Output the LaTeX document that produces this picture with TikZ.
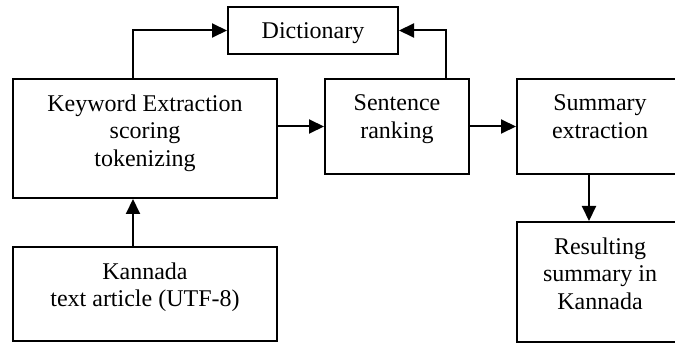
\documentclass[tikz,border=0pt]{standalone}
\usepackage{fontspec}
\setmainfont{Liberation Serif}
\usepackage{tikz}
\usetikzlibrary{arrows.meta,positioning,calc}
\tikzstyle{procbox}=[draw, line width=2pt, inner sep=0pt]
\tikzstyle{boxtext}=[align=center, inner sep=0pt, font=\fontsize{24}{27.5}\selectfont]
\tikzstyle{flow}=[line width=2pt, -{Triangle[length=15pt,width=14pt]}]
\newcommand{\procBox}[5]{
	\node[procbox, minimum width=#3, minimum height=#4] (#1) at #2 {};
	\node[boxtext, below=16.5pt of #1.north] (#1-text) {#5};
}

\begin{document}
\begin{tikzpicture}[x=1pt,y=1pt]
	\clip (0,0) rectangle (675,343);
	\procBox{dict}{(313,312.5)}{170pt}{47pt}{Dictionary}
	\procBox{kw}{(145,204.5)}{264pt}{119pt}{Keyword Extraction\\scoring\\tokenizing}
	\procBox{sent}{(397,216.5)}{144pt}{95pt}{Sentence\\ranking}
	\procBox{summ}{(600,216.5)}{166pt}{95pt}{Summary\\extraction}
	\procBox{kan}{(145,49)}{264pt}{94pt}{Kannada\\text article (UTF-8)}
	\procBox{res}{(600,61)}{166pt}{120pt}{Resulting\\summary in\\Kannada}
	\draw[flow] ([xshift=-12pt]kw.north) |- (dict.west);
	\draw[flow] ([xshift=49pt]sent.north) |- (dict.east);
	\draw[flow] (kw.east |- sent.west) -- (sent.west);
	\draw[flow] (sent.east) -- (summ.west);
	\draw[flow] ([xshift=-11pt]summ.south) -- ([xshift=-11pt]res.north);
	\draw[flow] ([xshift=-12pt]kan.north) -- ([xshift=-12pt]kw.south);
\end{tikzpicture}
\end{document}
